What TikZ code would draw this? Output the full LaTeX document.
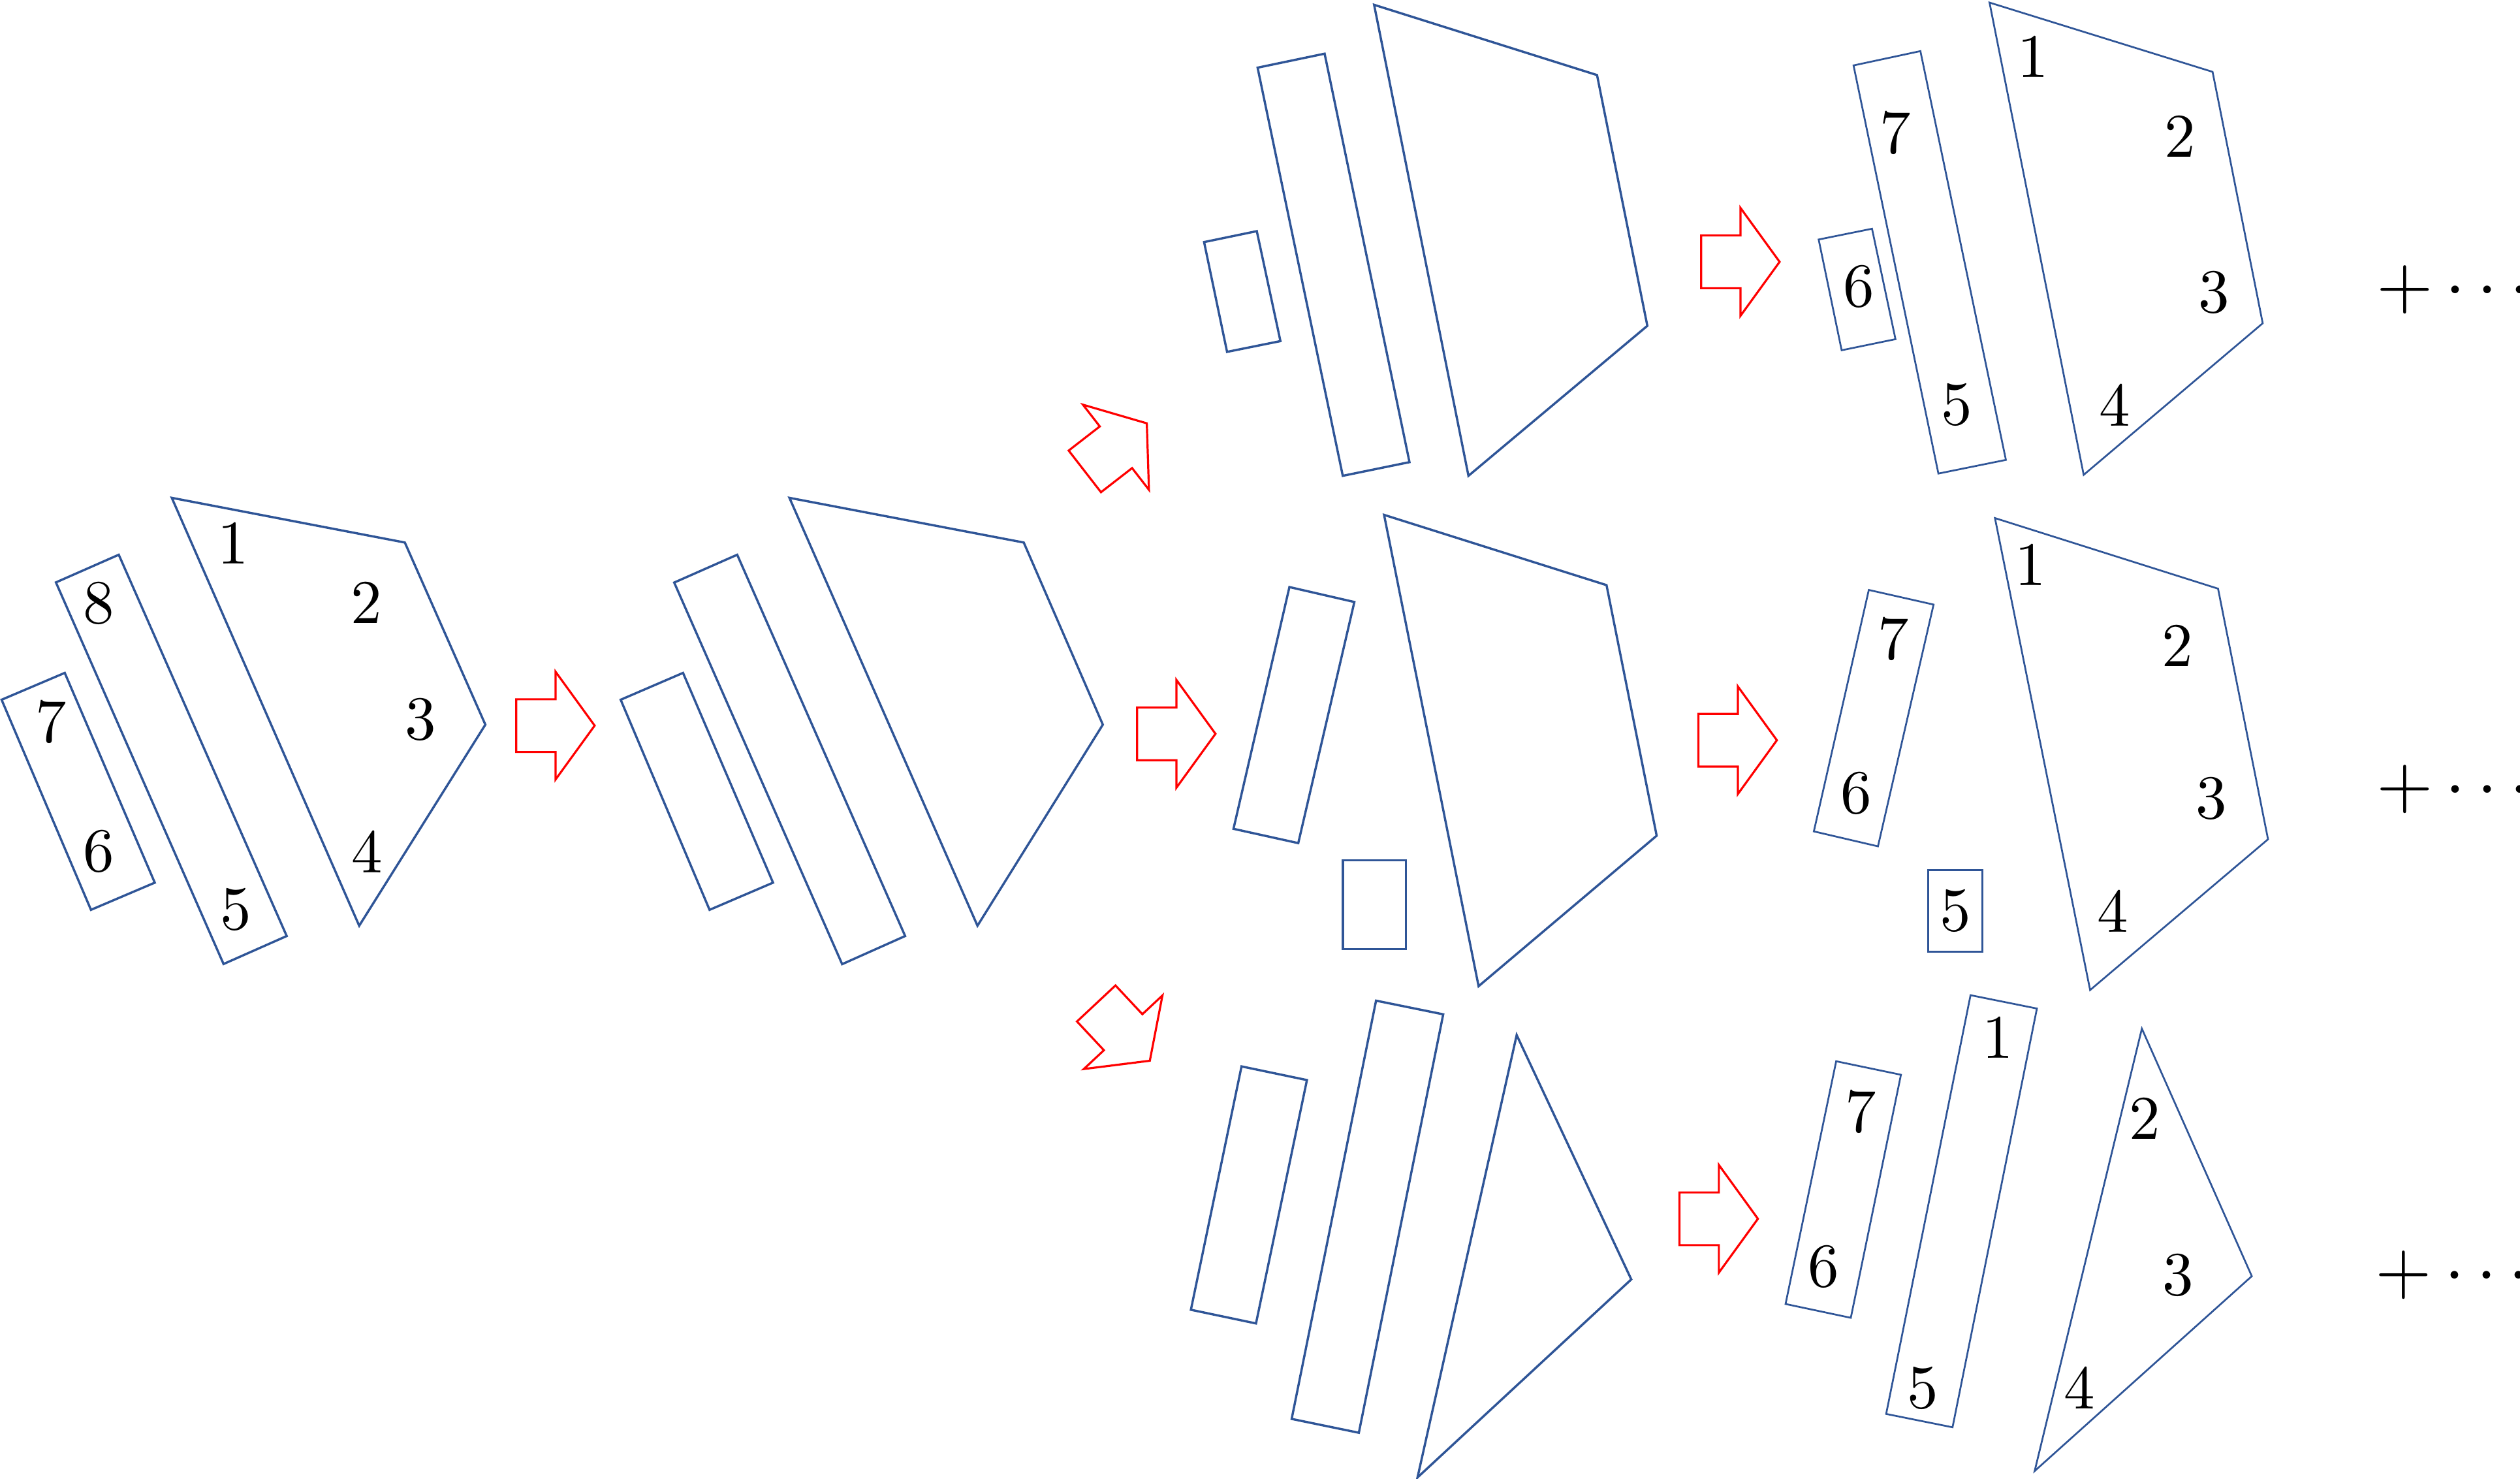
\RequirePackage{fix-cm}
\documentclass[tikz,border=0pt]{standalone}
\definecolor{dblue}{RGB}{47,85,151}
\tikzset{
  piece/.style={draw=dblue, line width=0.7pt, line join=miter},
  pieceR/.style={draw=dblue, line width=0.55pt, line join=miter},
  redout/.style={draw=red, line width=0.65pt, line join=miter},
  lab/.style={inner sep=0pt, font=\fontsize{10}{12}\selectfont, scale=1.93},
  more/.style={inner sep=0pt, anchor=west, font=\fontsize{10}{12}\selectfont, scale=2.26},
  fatarrow/.pic={\draw[redout] (0,-16.4) -- (24.5,-16.4) -- (24.5,-33.5) -- (48.8,0) -- (24.5,33.5) -- (24.5,16.4) -- (0,16.4) -- cycle;}
}
\begin{document}
\begin{tikzpicture}[x=0.5pt,y=-0.5pt]
\useasboundingbox (0,0) rectangle (1568,920);

% ---- group 1 (labelled) ----
\draw[piece] (106.9,309.7) -- (251.9,337.5) -- (302.0,450.8) -- (223.5,575.9) -- cycle;
\draw[piece] (34.8,362.3) -- (73.9,345.1) -- (178.4,582.3) -- (139.1,599.7) -- cycle;
\draw[piece] (1.0,435.3) -- (40.3,418.6) -- (96.3,549.1) -- (56.6,566.0) -- cycle;
\node[lab] (g1n1) at (145.0,337.9) {1};
\node[lab] (g1n2) at (227.9,374.9) {2};
\node[lab] (g1n3) at (261.8,447.8) {3};
\node[lab] (g1n4) at (228.5,529.8) {4};
\node[lab] (g1n5) at (146.6,566.0) {5};
\node[lab] (g1n6) at (61.6,529.8) {6};
\node[lab] (g1n7) at (31.8,449.2) {7};
\node[lab] (g1n8) at (61.6,375.3) {8};

\pic at (321.2,451.4) {fatarrow};

% ---- group 2 ----
\draw[piece] (491.2,309.7) -- (637.0,337.5) -- (686.2,450.8) -- (608.2,575.9) -- cycle;
\draw[piece] (419.5,362.4) -- (458.7,345.1) -- (563.2,582.3) -- (524.0,599.8) -- cycle;
\draw[piece] (386.2,435.3) -- (425.0,418.6) -- (481.0,549.1) -- (441.5,566.0) -- cycle;

\pic[rotate=37.8] at (675.0,293.25) {fatarrow};
\pic at (707.5,456.5) {fatarrow};
\pic[rotate=-46.9] at (682.1,624.25) {fatarrow};

% ---- top middle ----
\draw[piece] (855.0,3.0) -- (993.7,46.7) -- (1025.0,202.7) -- (913.7,296.0) -- cycle;
\draw[piece] (782.5,42.1) -- (824.2,33.4) -- (877.0,287.5) -- (835.5,296.0) -- cycle;
\draw[piece] (749.2,150.6) -- (782.0,143.8) -- (796.7,212.2) -- (763.5,218.9) -- cycle;

% ---- middle middle ----
\draw[piece] (861.2,320.3) -- (999.6,364.0) -- (1030.8,519.9) -- (920.0,613.5) -- cycle;
\draw[piece] (802.3,365.2) -- (842.7,374.5) -- (807.8,524.5) -- (767.5,515.6) -- cycle;
\draw[piece] (835.5,535.1) rectangle (874.7,590.5);

% ---- bottom middle ----
\draw[piece] (943.7,643.9) -- (1015.0,795.9) -- (882.0,919.1) -- cycle;
\draw[piece] (856.2,622.5) -- (898.0,631.0) -- (845.5,891.3) -- (803.7,882.7) -- cycle;
\draw[piece] (772.5,663.4) -- (813.2,671.9) -- (781.5,823.3) -- (741.0,814.8) -- cycle;

% ---- arrows to right column ----
\pic at (1058.5,162.9) {fatarrow};
\pic at (1056.8,460.5) {fatarrow};
\pic at (1045.0,758.2) {fatarrow};

% ---- top right ----
\draw[pieceR] (1237.9,1.6) -- (1376.7,44.7) -- (1407.9,201.1) -- (1296.5,295.4) -- cycle;
\draw[pieceR] (1153.3,40.7) -- (1194.9,31.8) -- (1248.1,286.1) -- (1206.1,294.6) -- cycle;
\draw[pieceR] (1131.6,149.0) -- (1164.8,142.3) -- (1179.4,211.0) -- (1145.9,217.9) -- cycle;
\node[lab] (t1) at (1265.0,35.4) {1};
\node[lab] (t2) at (1356.4,85.0) {2};
\node[lab] (t3) at (1377.7,181.8) {3};
\node[lab] (t4) at (1315.8,251.9) {4};
\node[lab] (t5) at (1217.6,251.9) {5};
\node[lab] (t6) at (1156.7,178.4) {6};
\node[lab] (t7) at (1179.4,82.5) {7};
\node[more] (tmore) at (1477.9,180.2) {$+\mkern3mu{\cdot}\mkern3mu{\cdot}\mkern3mu{\cdot}$};

% ---- middle right ----
\draw[pieceR] (1241.3,322.3) -- (1380.1,366.2) -- (1411.2,522.1) -- (1300.5,615.9) -- cycle;
\draw[pieceR] (1162.8,367.0) -- (1203.1,376.1) -- (1168.5,526.5) -- (1128.6,517.2) -- cycle;
\draw[pieceR] (1199.7,541.4) rectangle (1233.5,592.1);
\node[lab] (m1) at (1263.3,351.3) {1};
\node[lab] (m2) at (1354.7,401.7) {2};
\node[lab] (m3) at (1376.0,496.7) {3};
\node[lab] (m4) at (1314.8,566.8) {4};
\node[lab] (m5) at (1216.6,566.8) {5};
\node[lab] (m6) at (1155.0,493.7) {6};
\node[lab] (m7) at (1178.0,397.4) {7};
\node[more] (mmore) at (1477.9,491.1) {$+\mkern3mu{\cdot}\mkern3mu{\cdot}\mkern3mu{\cdot}$};

% ---- bottom right ----
\draw[pieceR] (1332.7,639.9) -- (1401.1,793.9) -- (1266.0,915.1) -- cycle;
\draw[pieceR] (1226.1,619.1) -- (1267.4,627.4) -- (1214.9,887.9) -- (1173.6,879.6) -- cycle;
\draw[pieceR] (1142.5,660.2) -- (1182.8,668.6) -- (1151.6,819.8) -- (1111.0,811.2) -- cycle;
\node[lab] (b1) at (1243.0,645.5) {1};
\node[lab] (b2) at (1334.4,695.6) {2};
\node[lab] (b3) at (1355.4,793.3) {3};
\node[lab] (b4) at (1293.8,863.5) {4};
\node[lab] (b5) at (1196.3,863.5) {5};
\node[lab] (b6) at (1134.7,788.0) {6};
\node[lab] (b7) at (1157.7,691.6) {7};
\node[more] (bmore) at (1477.3,793.3) {$+\mkern3mu{\cdot}\mkern3mu{\cdot}\mkern3mu{\cdot}$};
\end{tikzpicture}
\end{document}
